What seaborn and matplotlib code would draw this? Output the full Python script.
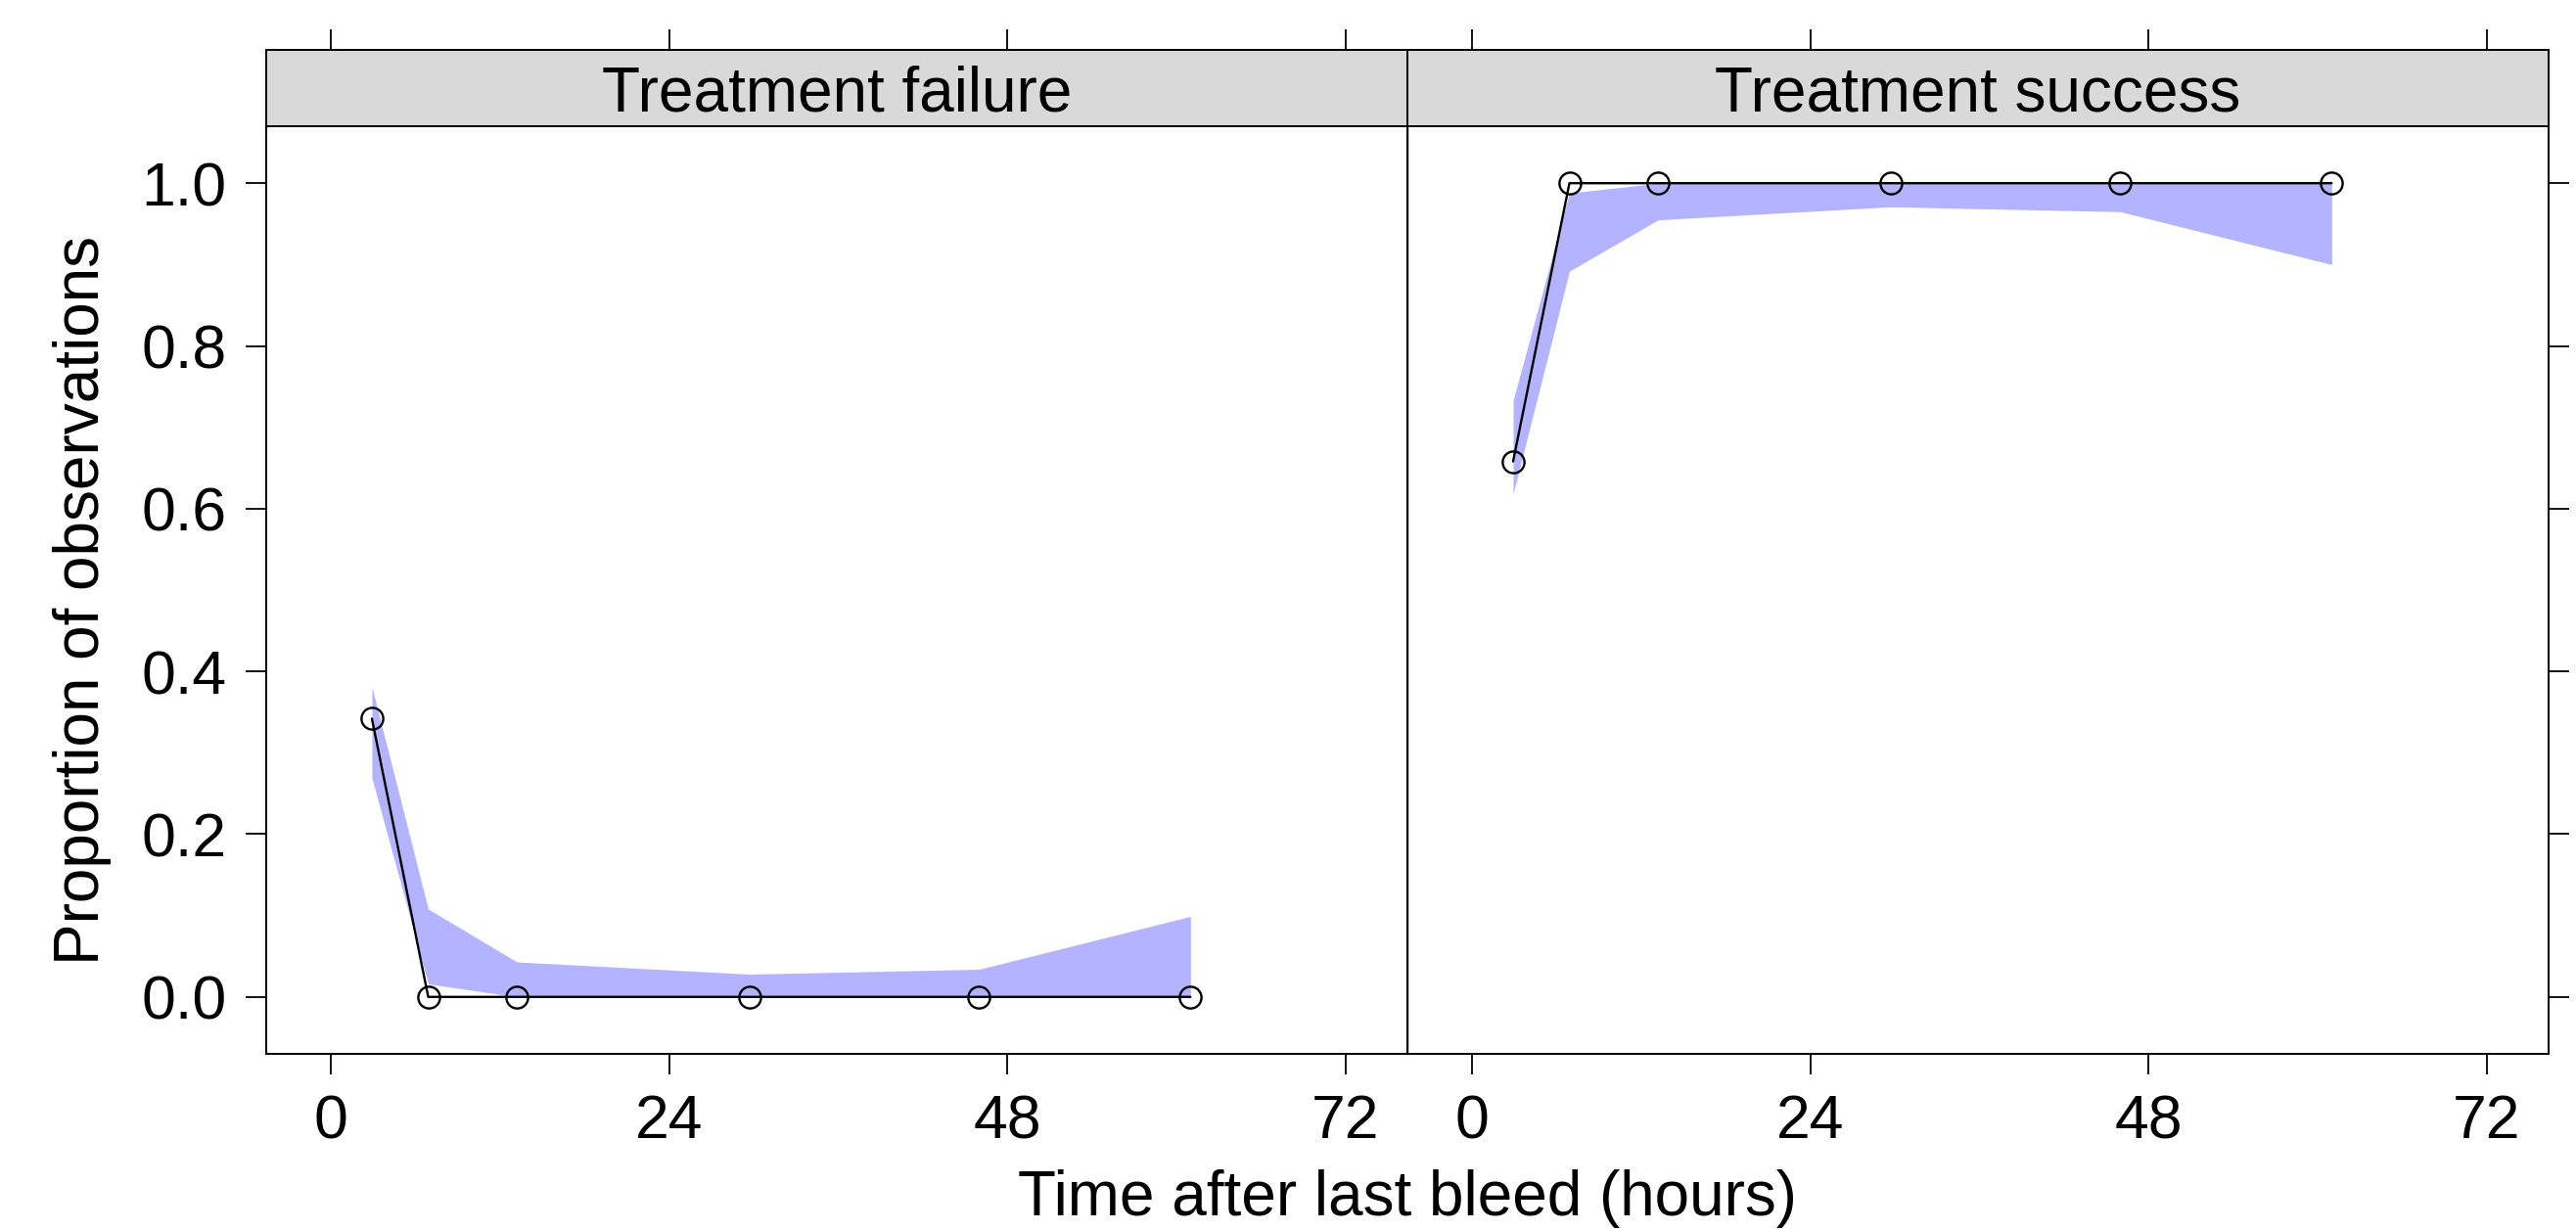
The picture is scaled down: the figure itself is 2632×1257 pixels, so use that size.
import seaborn as sns
import matplotlib.pyplot as plt
import pandas as pd
import numpy as np

# time after last bleed (hours), shared bins
time_h = [2.9, 6.9, 13.2, 29.7, 46.0, 61.0]

# observed proportions + simulated interval per panel
fail_obs = [0.342, 0.0, 0.0, 0.0, 0.0, 0.0]
fail_lo = [0.269, 0.016, 0.0, 0.0, 0.0, 0.0]
fail_hi = [0.381, 0.108, 0.043, 0.028, 0.034, 0.099]

succ_obs = [0.658, 1.0, 1.0, 1.0, 1.0, 1.0]
succ_lo = [0.618, 0.892, 0.955, 0.971, 0.965, 0.900]
succ_hi = [0.733, 0.988, 1.0, 1.0, 1.0, 1.0]

panels = ["Treatment failure", "Treatment success"]
x_ticks = [0, 24, 48, 72]
y_ticks = [0.0, 0.2, 0.4, 0.6, 0.8, 1.0]

sns.set_theme(style="white")
plt.rcParams['font.family'] = ['Liberation Sans', 'DejaVu Sans']
plt.rcParams.update({"text.color": "black", "axes.labelcolor": "black",
                     "xtick.color": "black", "ytick.color": "black"})

df = pd.DataFrame({
    "time": time_h * 2,
    "prop": fail_obs + succ_obs,
    "lo": fail_lo + succ_lo,
    "hi": fail_hi + succ_hi,
    "panel": [panels[0]] * len(time_h) + [panels[1]] * len(time_h),
})

W, H = 2632, 1257
fig = plt.figure(figsize=(W / 100, H / 100), dpi=100)

x0, xmid, x1 = 272, 1438, 2604
ytop, ybot, strip_top = 129, 1077, 51
lims_x = (-4.6, 76.4)
lims_y = (-0.07, 1.07)
tick_fs = 45
lab_fs = 46

for i, name in enumerate(panels):
    left = (x0 if i == 0 else xmid) / W
    width = (xmid - x0) / W
    ax = fig.add_axes([left, 1 - ybot / H, width, (ybot - ytop) / H])
    sub = df[df["panel"] == name]

    ax.fill_between(sub["time"], sub["lo"], sub["hi"], color="#B3B3FF", lw=0, zorder=1)
    sns.lineplot(data=sub, x="time", y="prop", ax=ax, color="black", lw=1.7,
                 marker="o", markersize=16, markerfacecolor="none",
                 markeredgecolor="black", markeredgewidth=1.7,
                 estimator=None, sort=False, errorbar=None, zorder=3)

    ax.set_xlim(*lims_x)
    ax.set_ylim(*lims_y)
    ax.set_xticks(x_ticks)
    ax.set_xticklabels([str(t) for t in x_ticks], fontsize=tick_fs, color="black")
    ax.set_yticks(y_ticks)
    ax.set_xlabel("")
    ax.set_ylabel("")
    ax.tick_params(axis="x", direction="out", length=15, width=1.3, pad=14,
                   bottom=True, top=False, colors="black")
    if i == 0:
        ax.set_yticklabels([f"{v:.1f}" for v in y_ticks], fontsize=tick_fs, color="black")
        ax.tick_params(axis="y", direction="out", length=15, width=1.3, pad=14,
                       left=True, right=False, labelleft=True, colors="black")
    else:
        ax.tick_params(axis="y", direction="out", length=15, width=1.3,
                       left=False, right=True, labelleft=False, labelright=False,
                       colors="black")
    for s in ax.spines.values():
        s.set_color("black")
        s.set_linewidth(1.4)
    if i == 1:
        ax.spines["left"].set_linewidth(1.0)

    # strip on top of each panel
    sax = fig.add_axes([left, 1 - ytop / H, width, (ytop - strip_top) / H])
    sax.set_facecolor("#D9D9D9")
    sax.set_xlim(*lims_x)
    sax.set_ylim(0, 1)
    sax.set_xticks(x_ticks)
    sax.set_yticks([])
    sax.tick_params(axis="x", direction="out", length=15, width=1.3, colors="black",
                    bottom=False, top=True, labelbottom=False, labeltop=False)
    for s in sax.spines.values():
        s.set_color("black")
        s.set_linewidth(1.4)
    sax.text(0.5, 0.42, name, transform=sax.transAxes, ha="center", va="center",
             fontsize=lab_fs, color="black")

fig.text((x0 + x1) / 2 / W, 1 - 1255 / H, "Time after last bleed (hours)",
         ha="center", va="bottom", fontsize=lab_fs, color="black")
fig.text(84 / W, 1 - 613 / H, "Proportion of observations", rotation=90,
         ha="center", va="center", fontsize=lab_fs, color="black")

fig.savefig("out.png", dpi=100, facecolor="white")
